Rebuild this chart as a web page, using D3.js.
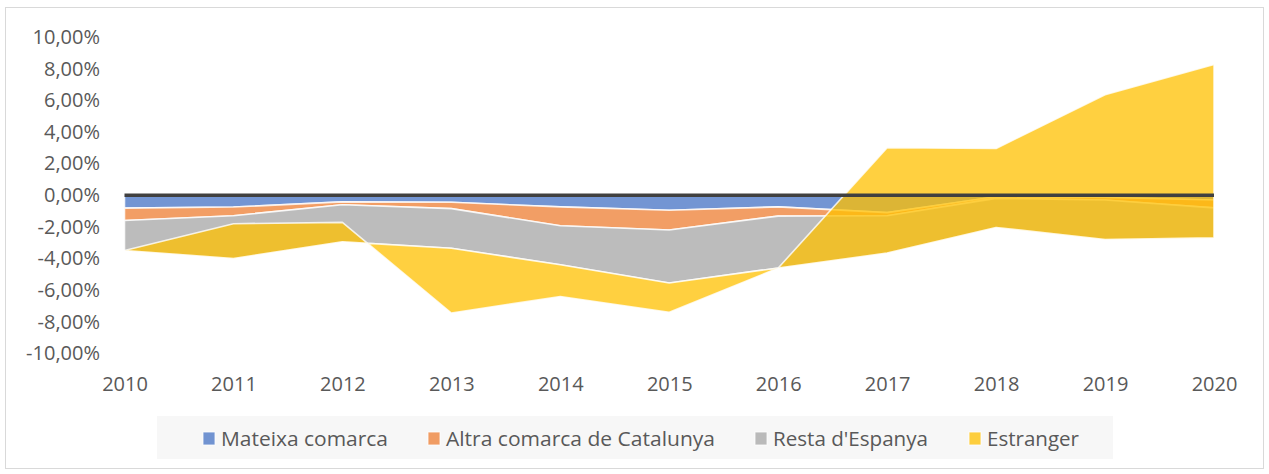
<!DOCTYPE html>
<html>
<head>
<meta charset="utf-8">
<script src="https://cdn.jsdelivr.net/npm/d3@7"></script>
<style>
  html, body { margin: 0; padding: 0; background: #fff; }
  svg { display: block; }
  text { font-family: "Open Sans", "Liberation Sans", sans-serif; fill: #595959; }
</style>
</head>
<body>
<svg id="chart" width="1269" height="474"></svg>
<script>
// ---- data (percentages) ----
const years = [2010, 2011, 2012, 2013, 2014, 2015, 2016, 2017, 2018, 2019, 2020];
const seriesNames = ["Mateixa comarca", "Altra comarca de Catalunya", "Resta d'Espanya", "Estranger"];
const mateixa   = [-0.82, -0.75, -0.42, -0.45, -0.74, -0.95, -0.74, -1.10, -0.10, -0.15, -0.30];
const altra     = [-0.78, -0.55, -0.18, -0.40, -1.19, -1.25, -0.58, -0.20, -0.10, -0.15, -0.50];
const resta     = [-1.90, -2.70, -2.35, -2.50, -2.47, -3.35, -3.28, -2.36, -1.84, -2.50, -1.90];
const estranger = [ 0.00,  2.20,  1.23, -4.10, -2.00, -1.85,  0.00,  6.66,  4.99,  9.15, 10.96];
const yTicks = [-10, -8, -6, -4, -2, 0, 2, 4, 6, 8, 10];
const colors = ["#4472C4", "#ED7D31", "#A5A5A5", "#FFC000"];

const table = years.map((y, i) => ({
  year: y,
  [seriesNames[0]]: mateixa[i],
  [seriesNames[1]]: altra[i],
  [seriesNames[2]]: resta[i],
  [seriesNames[3]]: estranger[i]
}));

const svg = d3.select("#chart");

// chart border
svg.append("rect").attr("x", 5.5).attr("y", 7.5).attr("width", 1258).attr("height", 461)
  .attr("fill", "#fff").attr("stroke", "#D9D9D9").attr("stroke-width", 1);

const x = d3.scaleLinear().domain([2010, 2020]).range([124.5, 1214]);
const y = d3.scaleLinear().domain([-10, 10]).range([353.4, 37]);

const stack = d3.stack().keys(seriesNames).order(d3.stackOrderNone).offset(d3.stackOffsetNone);
const stacked = stack(table);

const area = d3.area()
  .x(d => x(d.data.year))
  .y0(d => y(d[0]))
  .y1(d => y(d[1]));

svg.append("g").selectAll("path").data(stacked).join("path")
  .attr("d", area)
  .attr("fill", (d, i) => colors[i])
  .attr("fill-opacity", 0.75)
  .attr("stroke", "#fff")
  .attr("stroke-opacity", 0.8)
  .attr("stroke-width", 1.6)
  .attr("stroke-linejoin", "round");

// zero line
svg.append("line")
  .attr("x1", x(2010)).attr("x2", x(2020))
  .attr("y1", y(0)).attr("y2", y(0))
  .attr("stroke", "#404040").attr("stroke-width", 3.5);

// axes
const loc = d3.formatLocale({decimal: ",", thousands: ".", grouping: [3], currency: ["", "€"], minus: "-"});
const fmt = loc.format(".2f");

const yAxis = svg.append("g").attr("transform", `translate(${x(2010)},0)`)
  .call(d3.axisLeft(y).tickValues(yTicks).tickSize(0).tickPadding(24.5).tickFormat(d => fmt(d) + "%"));
yAxis.select(".domain").remove();
yAxis.selectAll("text").attr("font-size", 20).attr("font-family", "Open Sans, Liberation Sans, sans-serif").attr("fill", "#595959");

const xAxis = svg.append("g").attr("transform", `translate(0,${y(-10)})`)
  .call(d3.axisBottom(x).tickValues(years).tickSize(0).tickPadding(23.5).tickFormat(d3.format("d")));
xAxis.select(".domain").remove();
xAxis.selectAll("text").attr("font-size", 20).attr("font-family", "Open Sans, Liberation Sans, sans-serif").attr("fill", "#595959");

// legend
const legendX = [203, 428, 755, 969];
const legendW = [167, 269, 155, 92];
svg.append("rect").attr("x", 157).attr("y", 416).attr("width", 956).attr("height", 43).attr("fill", "#F7F7F7");
const lg = svg.append("g").selectAll("g").data(seriesNames).join("g")
  .attr("transform", (d, i) => `translate(${legendX[i]},0)`);
lg.append("rect").attr("x", 0).attr("y", 432).attr("width", 12).attr("height", 13)
  .attr("fill", (d, i) => colors[i]).attr("fill-opacity", 0.75)
  .attr("stroke", "#fff").attr("stroke-opacity", 0.8).attr("stroke-width", 1);
lg.append("text").attr("x", 18).attr("y", 446)
  .attr("font-size", 20)
  .attr("textLength", (d, i) => legendW[i]).attr("lengthAdjust", "spacingAndGlyphs")
  .text(d => d);
</script>
</body>
</html>
